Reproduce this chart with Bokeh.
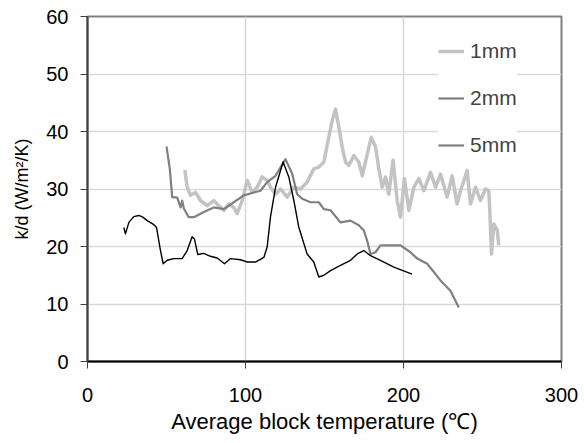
from bokeh.plotting import figure
from bokeh.models import Legend, LegendItem, Range1d, FixedTicker
from bokeh.embed import file_html
from bokeh.resources import INLINE

# ---- data ----
x_1mm = [61.6, 63.1, 65.2, 68.4, 71.5, 75.8, 79.9, 83.1, 86.3, 89.4, 92.6, 94.7, 97.9,
         101.1, 104.2, 107.4, 110.5, 113.7, 115.8, 119.0, 122.2, 126.4, 130.6, 134.8,
         139.0, 143.2, 146.4, 149.6, 152.7, 154.9, 157.0, 159.1, 161.2, 163.3, 165.4,
         168.6, 171.7, 173.9, 176.6, 179.6, 182.3, 184.4, 186.5, 188.6, 190.7, 193.4,
         196.0, 198.1, 200.6, 203.4, 206.5, 209.7, 212.9, 217.1, 220.3, 223.4, 227.6,
         230.8, 233.9, 236.1, 240.3, 242.4, 245.6, 248.7, 251.9, 254.0, 254.6, 255.7,
         257.2, 259.3, 260.3]
y_1mm = [33.3, 30.3, 28.9, 29.4, 28.0, 27.1, 28.0, 27.1, 26.3, 27.4, 26.8, 25.7, 28.0,
         31.5, 29.4, 30.3, 32.1, 31.5, 30.3, 29.1, 30.0, 28.6, 30.3, 30.0,
         31.2, 33.5, 33.8, 34.7, 39.0, 41.9, 43.9, 40.7, 37.3, 34.7, 34.1,
         35.8, 34.7, 32.3, 35.5, 39.0, 37.3, 33.5, 30.3, 32.1, 29.1, 35.0,
         28.0, 25.1, 31.8, 26.3, 30.3, 31.8, 29.7, 32.9, 30.3, 32.6, 28.6,
         32.3, 27.4, 29.7, 33.2, 27.4, 30.3, 28.0, 30.0, 29.7, 26.3, 18.7,
         23.9, 22.8, 20.2]

x_2mm = [50.0, 52.1, 53.6, 56.8, 58.9, 59.9, 61.0, 64.1, 67.3, 73.6, 79.9, 86.3, 92.6,
         98.9, 105.3, 109.5, 113.7, 119.0, 125.3, 129.6, 132.7, 135.9, 141.1, 146.4,
         149.6, 153.8, 160.1, 166.5, 171.7, 174.9, 177.0, 179.1, 182.3, 185.4, 191.8,
         198.1, 204.4, 208.7, 215.0, 223.4, 229.7, 235.0]
y_2mm = [37.4, 33.5, 28.6, 28.5, 26.8, 28.0, 26.6, 25.1, 25.1, 26.0, 26.8, 26.5, 27.7,
         28.9, 29.4, 29.7, 31.2, 32.3, 35.2, 32.6, 29.1, 28.3, 27.7, 27.7,
         26.5, 26.3, 24.2, 24.5, 23.7, 22.8, 21.0, 18.7, 19.0, 20.2, 20.2,
         20.2, 19.0, 17.9, 17.0, 14.1, 12.3, 9.4]

x_5mm = [23.0, 24.0, 26.2, 29.3, 32.5, 35.0, 37.8, 42.0, 43.7, 46.2, 47.9, 50.4, 54.6,
         59.9, 63.1, 66.2, 67.7, 69.8, 73.6, 77.8, 82.1, 86.7, 90.5, 96.8, 101.1,
         106.3, 111.6, 113.7, 115.8, 119.0, 123.8, 127.4, 130.6, 133.7, 139.0, 143.2,
         146.4, 149.6, 153.8, 160.1, 166.5, 170.7, 174.9, 179.1, 185.4, 193.9, 205.4]
y_5mm = [23.3, 22.2, 24.2, 25.2, 25.4, 25.1, 24.5, 23.8, 23.3, 19.3, 17.0, 17.6, 17.9,
         17.9, 19.3, 21.7, 21.3, 18.6, 18.8, 18.3, 18.0, 17.0, 17.9, 17.7, 17.3,
         17.3, 18.1, 19.9, 25.1, 30.3, 34.7, 32.1, 28.0, 23.4, 18.7, 17.3,
         14.7, 15.0, 15.8, 16.7, 17.6, 18.7, 19.3, 18.4, 17.6, 16.4, 15.2]

series_labels = ["1mm", "2mm", "5mm"]
x_ticks = [0, 100, 200, 300]
y_ticks = [0, 10, 20, 30, 40, 50, 60]

FONT = "Liberation Sans"

p = figure(width=584, height=443, output_backend="svg", toolbar_location=None,
           x_range=Range1d(0, 300), y_range=Range1d(0, 60),
           min_border_left=87, min_border_right=23, min_border_top=16, min_border_bottom=82)

p.outline_line_color = "#7f7f7f"
p.outline_line_width = 2

for ax in (p.xaxis[0], p.yaxis[0]):
    ax.major_label_text_font = FONT
    ax.major_label_text_font_size = "20px"
    ax.major_label_text_color = "black"
    ax.axis_label_text_font = FONT
    ax.axis_label_text_font_style = "normal"
    ax.axis_label_text_color = "black"
    ax.minor_tick_line_color = None
    ax.major_tick_in = 0
    ax.major_tick_out = 7
    ax.axis_line_width = 2

p.xaxis.ticker = FixedTicker(ticks=x_ticks)
p.yaxis.ticker = FixedTicker(ticks=y_ticks)
p.xaxis.axis_label = "Average block temperature (\u2103)"
p.yaxis.axis_label = "k/d (W/m\u00b2/K)"
p.xaxis.axis_label_text_font_size = "22px"
p.yaxis.axis_label_text_font_size = "18px"
p.xaxis.axis_line_color = "black"
p.yaxis.axis_line_color = "#404040"
p.xaxis.major_tick_line_color = "#404040"
p.yaxis.major_tick_line_color = "#404040"
p.xaxis.major_label_standoff = 19
p.yaxis.major_label_standoff = 12
p.xaxis.axis_label_standoff = 4
p.yaxis.axis_label_standoff = 11

p.xgrid.grid_line_color = "#d9d9d9"
p.ygrid.grid_line_color = "#d9d9d9"
p.xgrid.grid_line_width = 1.5
p.ygrid.grid_line_width = 1.5

r1 = p.line(x_1mm, y_1mm, line_color="#c3c3c3", line_width=3.5, line_join="round")
r2 = p.line(x_2mm, y_2mm, line_color="#808080", line_width=2.2, line_join="round")
r5 = p.line(x_5mm, y_5mm, line_color="#000000", line_width=1.4, line_join="round")
# legend key for 5mm is drawn grey in the reference
r5_key = p.line(x_5mm[:1], y_5mm[:1], line_color="#808080", line_width=2.2)

legend = Legend(items=[LegendItem(label=series_labels[0], renderers=[r1]),
                       LegendItem(label=series_labels[1], renderers=[r2]),
                       LegendItem(label=series_labels[2], renderers=[r5_key])],
                location=(351, 204), background_fill_color="white", background_fill_alpha=1,
                border_line_color=None, padding=20, spacing=23, glyph_width=26,
                glyph_height=24, label_standoff=6, label_text_font=FONT,
                label_text_font_size="21px", margin=0)
p.add_layout(legend)

open("out.html", "w").write(file_html(p, INLINE))
